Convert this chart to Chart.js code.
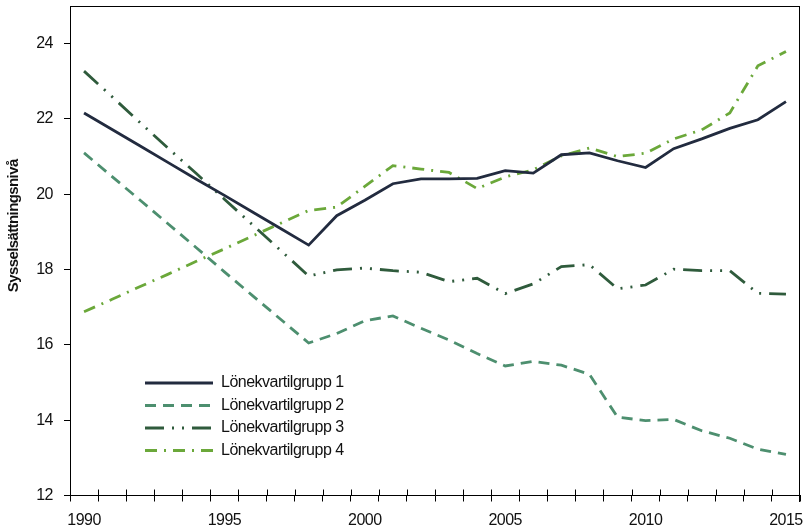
<!DOCTYPE html>
<html>
<head>
<meta charset="utf-8">
<script src="https://cdn.jsdelivr.net/npm/chart.js@4"></script>
<style>
html,body{margin:0;padding:0;background:#fff;}
#wrap{width:806px;height:528px;position:relative;}
</style>
</head>
<body>
<div id="wrap"><canvas id="c"></canvas></div>
<script>
const years = ['1990','1991','1992','1993','1994','1995','1996','1997','1998','1999','2000','2001','2002','2003','2004','2005','2006','2007','2008','2009','2010','2011','2012','2013','2014','2015'];
const group1 = [22.16,21.72,21.28,20.84,20.40,19.97,19.53,19.09,18.65,19.43,19.84,20.28,20.41,20.41,20.42,20.63,20.56,21.05,21.10,20.89,20.71,21.21,21.47,21.75,21.98,22.46];
const group2 = [21.10,20.47,19.84,19.21,18.58,17.94,17.31,16.68,16.05,16.30,16.64,16.77,16.44,16.13,15.77,15.44,15.56,15.46,15.22,14.08,13.99,14.02,13.72,13.52,13.23,13.09];
const group3 = [23.27,22.59,21.90,21.22,20.55,19.87,19.19,18.51,17.83,17.99,18.04,17.97,17.93,17.68,17.77,17.36,17.62,18.08,18.13,17.49,17.59,18.01,17.97,17.97,17.37,17.35];
const group4 = [16.88,17.21,17.55,17.88,18.22,18.55,18.89,19.23,19.57,19.66,20.21,20.76,20.67,20.58,20.15,20.46,20.65,21.02,21.23,21.00,21.09,21.47,21.71,22.16,23.41,23.79];
const seriesNames = ['Lönekvartilgrupp 1','Lönekvartilgrupp 2','Lönekvartilgrupp 3','Lönekvartilgrupp 4'];
const yTicks = [12,14,16,18,20,22,24];
const labelEvery = 5;
const yTitle = 'Sysselsättningsnivå';

const FAMILY = "'Liberation Sans',Arial,sans-serif";
const SPACING = '-0.5px';

const framePlugin = {
  id: 'frame',
  beforeUpdate(chart) { chart.ctx.letterSpacing = SPACING; },
  beforeDraw(chart) { chart.ctx.letterSpacing = SPACING; },
  afterLayout(chart) {
    const lg = chart.legend, ca = chart.chartArea;
    if (!lg) return;
    lg.left = ca.left + 68.5;
    lg.top = ca.top + 362.5;
    lg.right = lg.left + lg.width;
    lg.bottom = lg.top + 200;
  },
  afterDraw(chart) {
    const ctx = chart.ctx, ca = chart.chartArea, xs = chart.scales.x;
    ctx.save();
    ctx.strokeStyle = '#000';
    ctx.lineWidth = 1;
    ctx.beginPath();
    const t = Math.round(ca.top) + 0.5, r = Math.round(ca.right) - 0.5, b = Math.round(ca.bottom) - 0.5;
    ctx.moveTo(Math.round(ca.left), t); ctx.lineTo(r + 0.5, t);
    ctx.moveTo(r, t); ctx.lineTo(r, Math.round(ca.bottom) + 6);
    const step = xs.getPixelForTick(1) - xs.getPixelForTick(0);
    for (let i = 1; i < years.length; i++) {
      const x = Math.round(xs.getPixelForTick(i) - step / 2) + 0.5;
      ctx.moveTo(x, b); ctx.lineTo(x, b - 6);
    }
    ctx.stroke();
    ctx.translate(14, ca.top + ca.height * 0.449);
    ctx.rotate(-Math.PI / 2);
    ctx.fillStyle = '#111';
    ctx.letterSpacing = '-0.6px';
    ctx.font = "bold 15px " + FAMILY;
    ctx.textAlign = 'center';
    ctx.textBaseline = 'middle';
    ctx.fillText(yTitle, 0, 0);
    ctx.restore();
  }
};

const mk = (label, data, color, dash) => ({
  label, data, borderColor: color, backgroundColor: color, borderWidth: 2.8,
  borderDash: dash, borderCapStyle: 'butt', pointRadius: 0, pointHoverRadius: 0,
  tension: 0, fill: false
});

new Chart(document.getElementById('c'), {
  type: 'line',
  data: {
    labels: years,
    datasets: [
      mk(seriesNames[0], group1, '#222b3f', []),
      mk(seriesNames[1], group2, '#4d8f6f', [11, 7]),
      mk(seriesNames[2], group3, '#2f5b3c', [19, 8, 2, 8, 2, 8]),
      mk(seriesNames[3], group4, '#6ba83a', [12, 7, 2, 7])
    ]
  },
  options: {
    responsive: true,
    maintainAspectRatio: false,
    animation: false,
    layout: { padding: { top: 6, right: 6, left: 0, bottom: 0 } },
    plugins: {
      tooltip: { enabled: false },
      legend: {
        position: 'chartArea',
        align: 'start',
        labels: {
          usePointStyle: true,
          pointStyle: 'line',
          pointStyleWidth: 68,
          padding: 6.5,
          color: '#111',
          font: { family: FAMILY, size: 16, lineHeight: 1.0 },
          generateLabels(chart) {
            const items = Chart.defaults.plugins.legend.labels.generateLabels(chart);
            items.forEach(it => {
              const ds = chart.data.datasets[it.datasetIndex];
              it.lineDash = ds.borderDash;
              it.lineWidth = ds.borderWidth;
              it.strokeStyle = ds.borderColor;
              it.lineCap = 'butt';
            });
            return items;
          }
        }
      }
    },
    scales: {
      x: {
        type: 'category',
        offset: true,
        afterFit(s) { s.height = 32.5; s.paddingLeft = 0; s.paddingRight = 0; },
        grid: { offset: true, drawOnChartArea: false, drawTicks: true, tickLength: 6, color: '#000', lineWidth: 1 },
        border: { display: true, color: '#000', width: 1 },
        ticks: {
          autoSkip: false, maxRotation: 0, minRotation: 0, padding: 9, color: '#111',
          font: { family: FAMILY, size: 16 },
          callback(v, i) { const y = years[i]; return (parseInt(y) % labelEvery === 0) ? y : ''; }
        }
      },
      y: {
        type: 'linear',
        min: 12, max: 25,
        afterFit(s) { s.width = 70; s.paddingTop = 0; s.paddingBottom = 0; },
        afterBuildTicks(s) { s.ticks = yTicks.map(v => ({ value: v })); },
        grid: { drawOnChartArea: false, drawTicks: true, tickLength: 6, color: '#000', lineWidth: 1 },
        border: { display: true, color: '#000', width: 1 },
        ticks: { padding: 11, color: '#111', font: { family: FAMILY, size: 16 } }
      }
    }
  },
  plugins: [framePlugin]
});
</script>
</body>
</html>
